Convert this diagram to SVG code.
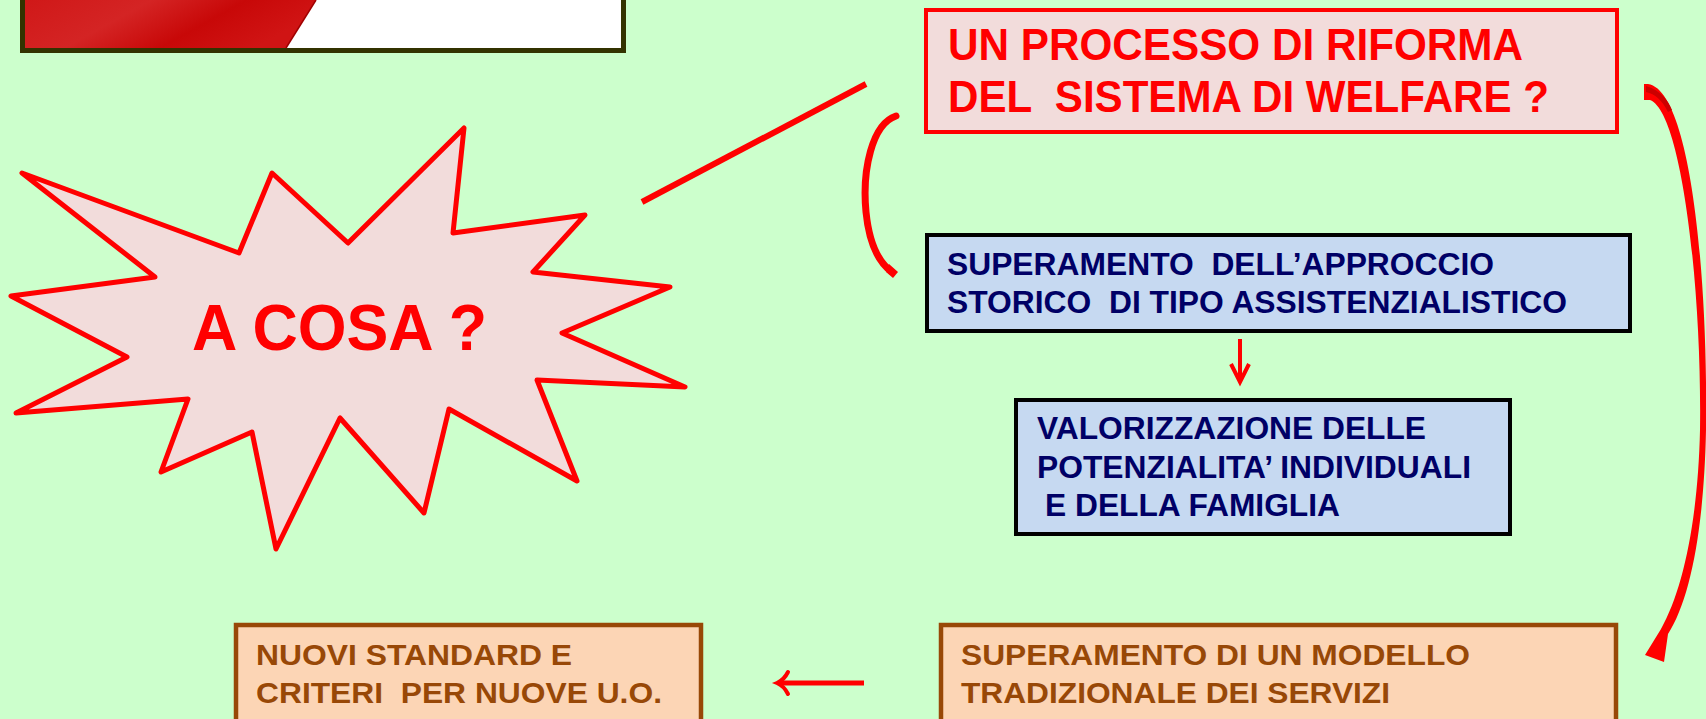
<svg xmlns="http://www.w3.org/2000/svg" width="1706" height="719" viewBox="0 0 1706 719">
<defs>
<style>
.t{font-family:"Liberation Sans",Arial,sans-serif;font-weight:bold}
.red{fill:#ff0000}
.navy{fill:#000066}
.brown{fill:#984807}
.conn{stroke:#ff0000;fill:none}
</style>
<linearGradient id="rg" x1="0" y1="0" x2="1" y2="0.3">
<stop offset="0" stop-color="#d01818"/>
<stop offset="0.4" stop-color="#d42424"/>
<stop offset="0.7" stop-color="#c80808"/>
<stop offset="1" stop-color="#d01414"/>
</linearGradient>
</defs>
<rect x="0" y="0" width="1706" height="719" fill="#ccffcc"/>

<g id="title-box">
<rect x="22.5" y="-10" width="601" height="60.5" fill="#ffffff" stroke="#333300" stroke-width="5"/>
<polygon points="25,0 316,0 286,48 25,48" fill="url(#rg)"/>
<line x1="316" y1="0" x2="286" y2="48" stroke="#a00000" stroke-width="1.5"/>
</g>

<g id="riforma">
<rect x="926" y="10" width="691" height="122" fill="#f2dcdb" stroke="#ff0000" stroke-width="4"/>
<text class="t red" x="948" y="60" font-size="44" textLength="575" lengthAdjust="spacingAndGlyphs">UN PROCESSO DI RIFORMA</text>
<text class="t red" x="948" y="112" font-size="44" textLength="601" lengthAdjust="spacingAndGlyphs" xml:space="preserve">DEL  SISTEMA DI WELFARE ?</text>
</g>

<g id="a-cosa">
<polygon points="22,173 239,253 272,173 348,243 464,128 453,233 585,215 533,272 670,287 562,333 685,387 537,380 577,481 449,409 424,513 340,418 276,549 252,432 161,472 188,399 16,413 127,357 11,296 155,277" fill="#f2dcdb" stroke="#ff0000" stroke-width="5" stroke-linejoin="round"/>
<text class="t red" x="192" y="350" font-size="65" textLength="295" lengthAdjust="spacingAndGlyphs">A COSA ?</text>
</g>

<g id="superamento-approccio">
<rect x="927" y="235" width="703" height="96" fill="#c6d9f1" stroke="#000000" stroke-width="4"/>
<text class="t navy" x="947" y="275" font-size="31" textLength="547" lengthAdjust="spacingAndGlyphs" xml:space="preserve">SUPERAMENTO  DELL’APPROCCIO</text>
<text class="t navy" x="947" y="313" font-size="31" textLength="620" lengthAdjust="spacingAndGlyphs" xml:space="preserve">STORICO  DI TIPO ASSISTENZIALISTICO</text>
</g>

<g id="valorizzazione">
<rect x="1016" y="400" width="494" height="134" fill="#c6d9f1" stroke="#000000" stroke-width="4"/>
<text class="t navy" x="1037" y="439" font-size="31" textLength="389" lengthAdjust="spacingAndGlyphs">VALORIZZAZIONE DELLE</text>
<text class="t navy" x="1037" y="478" font-size="31" textLength="434" lengthAdjust="spacingAndGlyphs">POTENZIALITA’ INDIVIDUALI</text>
<text class="t navy" x="1045" y="516" font-size="31" textLength="295" lengthAdjust="spacingAndGlyphs">E DELLA FAMIGLIA</text>
</g>

<g id="nuovi-standard">
<rect x="236" y="625" width="465" height="110" fill="#fcd5b5" stroke="#984807" stroke-width="4.5"/>
<text class="t brown" x="256" y="665" font-size="30" textLength="316" lengthAdjust="spacingAndGlyphs">NUOVI STANDARD E</text>
<text class="t brown" x="256" y="703" font-size="30" textLength="406" lengthAdjust="spacingAndGlyphs" xml:space="preserve">CRITERI  PER NUOVE U.O.</text>
</g>

<g id="superamento-modello">
<rect x="941" y="625" width="675" height="110" fill="#fcd5b5" stroke="#984807" stroke-width="4.5"/>
<text class="t brown" x="961" y="665" font-size="30" textLength="509" lengthAdjust="spacingAndGlyphs">SUPERAMENTO DI UN MODELLO</text>
<text class="t brown" x="961" y="703" font-size="30" textLength="429" lengthAdjust="spacingAndGlyphs">TRADIZIONALE DEI SERVIZI</text>
</g>

<g id="connectors">
<line class="conn" x1="642" y1="202" x2="866" y2="84" stroke-width="6"/>
<path class="conn" d="M896,116 C872,124 862,170 866,212 C869,242 878,262 892,272" stroke-width="7" stroke-linecap="round"/>
<path d="M889,264 L898,272 L893,278 L886,272 Z" fill="#ff0000"/>
<line class="conn" x1="1240" y1="339" x2="1240" y2="380" stroke-width="4"/>
<polyline class="conn" points="1231,364 1240,382 1249,364" stroke-width="4" stroke-linejoin="miter"/>
<path d="M1644,84 L1648,84 C1690,90 1708,270 1706,430 C1704,530 1690,600 1668,634 L1664,662 L1645,655 L1661,629 C1683,590 1698,520 1700,430 C1702,290 1682,112 1650,100 L1644,100 Z" fill="#ff0000"/>
<path d="M1646,86 C1660,90 1668,100 1672,110 L1668,112 C1662,100 1655,94 1646,92 Z" fill="#cc0000"/>
<line class="conn" x1="864" y1="683" x2="781" y2="683" stroke-width="5"/>
<path class="conn" d="M788,672 Q784,680 777,683 Q784,686 788,694" stroke-width="4" stroke-linecap="round"/>
</g>
</svg>
